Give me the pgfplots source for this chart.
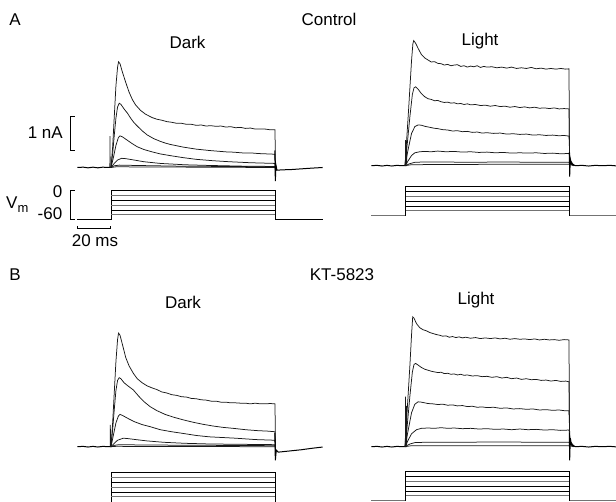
\documentclass[border=0pt]{standalone}
\usepackage{pgfplots}
\pgfplotsset{compat=1.18}
\usepackage{fontspec}
\setmainfont{Liberation Sans}
\begin{document}
\fontsize{17bp}{20bp}\selectfont
\begin{tikzpicture}
\path[use as bounding box] (0,0) rectangle (616bp,502bp);
\clip (0,0) rectangle (616bp,502bp);
\pgfplotsset{
  panel/.style={scale only axis, axis lines=none, clip=false, width=262.4bp, xmin=-25, xmax=135, anchor=south west},
  cur/.style={panel, height=153bp, ymin=-0.6, ymax=3.9},
  volt/.style={panel, height=38.667bp, ymin=-70, ymax=10},
  tr/.style={black!90, line width=0.75bp, mark=none},
  base/.style={black, line width=1bp, mark=none},
  lvA/.style={black, line width=0.7bp, mark=none},
  lvB/.style={black!55, line width=0.7bp, mark=none},
  sb/.style={black, line width=0.9bp, mark=none},
}
% ================= A: Control, Dark (current) =================
\begin{axis}[cur, at={(70bp,314.1bp)}]
\addplot[base] coordinates {(-20.5,0)(-17,0.01)(-14,-0.01)(-11,0.01)(-8,-0.01)(-5,0.01)(-2,0)(0,0)};
\addplot[tr] coordinates {(-0.7,0)(-0.6,0.92)(-0.5,0)(0,0)};
\addplot[tr] coordinates {(0,0)(1,0.6)(2,1.5)(3,2.4)(4,2.95)(4.6,3.11)(5.5,3.05)(7,2.8)(9,2.5)(11,2.22)(13,2.0)(15,1.84)(18,1.68)(21,1.57)(25,1.47)(28,1.42)(31,1.39)(34,1.35)(37,1.33)(40,1.30)(43,1.30)(46,1.27)(49,1.27)(52,1.24)(55,1.25)(58,1.22)(61,1.23)(64,1.21)(67,1.22)(70,1.19)(73,1.20)(76,1.17)(79,1.18)(82,1.15)(85,1.16)(88,1.13)(91,1.13)(94,1.13)(97,1.11)(100,1.11)(100.3,-0.1)};
\addplot[tr] coordinates {(0,0)(1,0.4)(2,0.95)(3,1.45)(4,1.78)(5,1.89)(6,1.86)(8,1.72)(10,1.6)(12,1.45)(14,1.32)(16,1.22)(19,1.08)(22,0.96)(26,0.85)(30,0.77)(33,0.72)(36,0.68)(40,0.64)(44,0.60)(48,0.57)(52,0.54)(56,0.52)(60,0.50)(65,0.48)(70,0.46)(75,0.45)(80,0.43)(85,0.43)(90,0.41)(95,0.40)(100,0.39)(100.3,-0.1)};
\addplot[tr] coordinates {(0,0)(1.5,0.3)(3,0.65)(4.5,0.88)(5.5,0.93)(7,0.9)(10,0.8)(13,0.7)(16,0.61)(20,0.53)(25,0.46)(30,0.40)(36,0.35)(44,0.29)(52,0.24)(62,0.2)(72,0.17)(85,0.14)(100,0.12)(100.3,-0.1)};
\addplot[tr] coordinates {(0,0)(2,0.12)(4,0.22)(6.5,0.27)(9,0.26)(14,0.22)(20,0.17)(30,0.12)(45,0.08)(60,0.06)(80,0.04)(100,0.03)(100.3,-0.1)};
\addplot[tr] coordinates {(0,0)(2,0.05)(5,0.07)(15,0.06)(40,0.04)(70,0.03)(100,0.02)};
\addplot[tr] coordinates {(0,0)(3,0.02)(50,0.01)(100,0.0)};
\addplot[base] coordinates {(99.9,0.5)(100.2,-0.4)(100.6,0.07)(101.2,-0.08)(104,-0.07)(110,-0.06)(116,-0.04)(122,-0.02)(129,0)};
% 1 nA scale bar
\addplot[sb] coordinates {(-22,1.5)(-25,1.5)(-25,0.5)(-22,0.5)};
\end{axis}
% ================= A: Control, Dark (voltage) =================
\begin{axis}[volt, at={(70bp,277.5bp)}]
\addplot[lvA] coordinates {(-20.5,-60)(0,-60)(0,0)(100,0)(100,-60)(129,-60)};
\addplot[lvB] coordinates {(0,-10)(100,-10)};
\addplot[lvA] coordinates {(0,-20)(100,-20)};
\addplot[lvB] coordinates {(0,-30)(100,-30)};
\addplot[lvA] coordinates {(0,-40)(100,-40)};
\addplot[lvB] coordinates {(0,-50)(100,-50)};
% Vm scale bracket
\addplot[sb] coordinates {(-22,0)(-25,0)(-25,-60)(-22,-60)};
% 20 ms bar
\addplot[sb] coordinates {(-20.5,-73)(-20.5,-78.5)(-0.5,-78.5)(-0.5,-73)};
\end{axis}
% ================= A: Control, Light (current) =================
\begin{axis}[cur, at={(364bp,315.9bp)}]
\addplot[base] coordinates {(-20.5,0)(-17,0.01)(-14,-0.01)(-11,0.01)(-8,-0.01)(-5,0.01)(-2,0)(0,0)};
\addplot[tr] coordinates {(0.2,0)(0.35,0.75)(0.5,0)(0.8,0)(0.95,0.6)(1.1,0.05)};
\addplot[tr] coordinates {(0,0)(1,0.75)(2,1.5)(3,2.3)(4,3.1)(4.8,3.58)(5.3,3.68)(6.5,3.6)(8,3.45)(10,3.27)(12,3.17)(14,3.11)(16,3.05)(18,3.06)(20,3.01)(22,3.0)(24,2.96)(26,2.98)(28,2.94)(30,2.96)(32,2.97)(34,2.92)(36,2.94)(38,2.9)(40,2.93)(42,2.91)(44,2.94)(46,2.89)(48,2.92)(50,2.9)(53,2.91)(56,2.88)(59,2.9)(62,2.87)(65,2.9)(68,2.86)(71,2.88)(74,2.86)(77,2.89)(80,2.85)(83,2.87)(86,2.84)(89,2.86)(92,2.84)(95,2.86)(98,2.84)(100,2.85)(100.3,0.2)(103,0)};
\addplot[tr] coordinates {(0,0)(1.5,0.7)(3,1.45)(4.5,2.1)(5.5,2.29)(6.5,2.32)(8,2.25)(10,2.12)(12,2.03)(14,1.97)(16,1.95)(18,1.91)(20,1.92)(22,1.88)(24,1.86)(26,1.87)(28,1.84)(30,1.85)(32,1.82)(34,1.83)(36,1.80)(38,1.82)(40,1.79)(43,1.80)(46,1.77)(49,1.78)(52,1.75)(55,1.77)(58,1.74)(61,1.75)(64,1.72)(67,1.74)(70,1.71)(73,1.73)(76,1.7)(79,1.72)(82,1.69)(85,1.7)(88,1.68)(91,1.7)(94,1.67)(97,1.68)(100,1.67)(100.4,0.15)(103,0)};
\addplot[tr] coordinates {(0,0)(2,0.5)(4,0.95)(6,1.15)(8,1.2)(10,1.19)(12,1.16)(14,1.14)(16,1.12)(18,1.1)(20,1.09)(23,1.06)(26,1.05)(29,1.02)(32,1.03)(35,1.0)(38,1.01)(41,0.98)(44,0.99)(47,0.96)(50,0.97)(54,0.95)(58,0.96)(62,0.93)(66,0.94)(70,0.92)(74,0.93)(78,0.9)(82,0.91)(86,0.89)(90,0.9)(94,0.88)(97,0.89)(100,0.87)(100.6,0.1)(103,0)};
\addplot[tr] coordinates {(0,0)(2,0.15)(4,0.3)(6,0.38)(9,0.41)(12,0.42)(16,0.41)(20,0.43)(25,0.41)(30,0.42)(35,0.4)(40,0.41)(45,0.39)(50,0.4)(55,0.38)(60,0.39)(65,0.37)(70,0.38)(75,0.37)(80,0.38)(85,0.36)(90,0.37)(95,0.35)(100,0.36)(101,0.1)(103.5,0)};
\addplot[tr] coordinates {(0,0)(3,0.06)(6,0.1)(12,0.11)(20,0.11)(40,0.1)(60,0.11)(80,0.1)(100,0.1)(102,0.03)(104,0)};
\addplot[tr] coordinates {(0,0)(4,0.03)(50,0.04)(100,0.04)(103,0)};
\addplot[base] coordinates {(100.2,0.4)(100.4,-0.32)(100.8,0.2)(101.5,0.05)(104,0)(108,0.01)(112,-0.01)(116,0.01)(120,0)(125,0.01)(130,-0.01)(135,0)};
\end{axis}
% ================= A: Control, Light (voltage) =================
\begin{axis}[volt, at={(364bp,281.5bp)}]
\addplot[lvB] coordinates {(-20.5,-60)(0,-60)(0,0)(100,0)(100,-60)(135,-60)};
\addplot[lvA] coordinates {(0,-10)(100,-10)};
\addplot[lvB] coordinates {(0,-20)(100,-20)};
\addplot[lvA] coordinates {(0,-30)(100,-30)};
\addplot[lvA] coordinates {(0,-40)(100,-40)};
\addplot[lvB] coordinates {(0,-50)(100,-50)};
\addplot[lvA] coordinates {(0,-60)(0,0)(100,0)(100,-60)};
\end{axis}
% ================= B: KT-5823, Dark (current) =================
\begin{axis}[cur, at={(70bp,34.9bp)}]
\addplot[base] coordinates {(-20.5,0)(-17,0.01)(-14,-0.01)(-11,0.01)(-8,-0.01)(-5,0.01)(-2,0)(0,0)};
\addplot[tr] coordinates {(-0.5,0)(-0.4,0.64)(-0.3,0)(0,0)};
\addplot[tr] coordinates {(0,0)(1,0.7)(2,1.6)(3,2.5)(4,3.15)(4.6,3.34)(5.5,3.28)(7,3.0)(9,2.62)(11,2.38)(13.6,2.16)(16,2.0)(19,1.88)(22,1.79)(25,1.73)(28,1.68)(31,1.61)(34,1.58)(37,1.53)(40,1.51)(43,1.47)(46,1.46)(49,1.42)(52,1.41)(55,1.38)(58,1.37)(61,1.34)(64,1.34)(67,1.31)(70,1.31)(73,1.29)(76,1.29)(79,1.28)(82,1.28)(85,1.26)(88,1.28)(91,1.26)(94,1.26)(97,1.27)(100,1.26)(100.3,-0.1)};
\addplot[tr] coordinates {(0,0)(1,0.5)(2,1.1)(3,1.65)(4,1.95)(5,2.03)(6,2.0)(8,1.88)(10,1.8)(13.6,1.67)(17,1.48)(20,1.33)(23.8,1.18)(28,1.06)(33,0.95)(38,0.87)(44,0.79)(50,0.72)(56,0.66)(62,0.61)(68,0.57)(74.5,0.54)(82,0.5)(90,0.47)(95,0.46)(100,0.44)(100.3,-0.1)};
\addplot[tr] coordinates {(0,0)(1.5,0.35)(3,0.7)(4.5,0.9)(5.5,0.95)(7,0.92)(10,0.84)(14,0.74)(19,0.65)(23.8,0.59)(30,0.5)(37,0.44)(44,0.39)(52,0.33)(60,0.29)(68,0.27)(76,0.25)(88,0.21)(100,0.19)(100.3,-0.1)};
\addplot[tr] coordinates {(0,0)(2,0.1)(4,0.19)(7.5,0.25)(10,0.24)(15,0.21)(22,0.17)(32,0.13)(45,0.1)(60,0.08)(80,0.07)(100,0.06)(100.3,-0.1)};
\addplot[tr] coordinates {(0,0)(2,0.04)(5,0.06)(20,0.05)(60,0.04)(100,0.03)};
\addplot[tr] coordinates {(0,0)(3,0.01)(100,0)};
\addplot[base] coordinates {(99.9,0.4)(100.2,-0.4)(100.8,-0.1)(102,-0.16)(104,-0.15)(110,-0.12)(116,-0.09)(122,-0.05)(129,-0.01)};
\end{axis}
% ================= B: KT-5823, Dark (voltage) =================
\begin{axis}[volt, at={(70bp,-4.5bp)}]
\addplot[lvA] coordinates {(0,-62)(0,0)(100,0)(100,-62)};
\addplot[lvB] coordinates {(0,-10)(100,-10)};
\addplot[lvA] coordinates {(0,-20)(100,-20)};
\addplot[lvB] coordinates {(0,-30)(100,-30)};
\addplot[lvA] coordinates {(0,-40)(100,-40)};
\addplot[lvB] coordinates {(0,-50)(100,-50)};
\end{axis}
% ================= B: KT-5823, Light (current) =================
\begin{axis}[cur, at={(364bp,34.9bp)}]
\addplot[base] coordinates {(-20.5,0)(-17,0.01)(-14,-0.01)(-11,0.01)(-8,-0.01)(-5,0.01)(-2,0)(0,0)};
\addplot[tr] coordinates {(0.2,0)(0.35,1.47)(0.5,0)(0.8,0)(0.95,1.2)(1.1,0.05)};
\addplot[tr] coordinates {(0,0)(1,0.8)(2,1.6)(3,2.4)(4,3.3)(4.7,3.82)(5.5,3.78)(7,3.62)(9,3.5)(11,3.44)(13,3.41)(15,3.36)(17,3.33)(19,3.3)(21,3.28)(23,3.25)(25,3.26)(27,3.22)(29,3.24)(31,3.21)(33,3.23)(35,3.2)(37,3.22)(40,3.19)(43,3.21)(46,3.18)(49,3.2)(52,3.18)(55,3.2)(58,3.17)(61,3.19)(64,3.16)(67,3.18)(70,3.16)(73,3.17)(76,3.15)(79,3.17)(82,3.14)(85,3.16)(88,3.14)(91,3.15)(94,3.13)(97,3.15)(100,3.14)(100.3,0.2)(103,0)};
\addplot[tr] coordinates {(0,0)(1.5,0.7)(3,1.5)(4.5,2.2)(5.5,2.42)(6.5,2.45)(8,2.4)(10,2.33)(12,2.28)(14,2.25)(16,2.22)(18,2.2)(20,2.18)(22,2.19)(24,2.15)(26,2.16)(28,2.13)(30,2.14)(32,2.11)(34,2.13)(36,2.1)(38,2.11)(41,2.08)(44,2.09)(47,2.06)(50,2.07)(53,2.04)(56,2.06)(59,2.02)(62,2.04)(65,2.0)(68,2.02)(71,1.98)(74,2.0)(77,1.97)(80,1.98)(83,1.95)(86,1.96)(89,1.93)(92,1.95)(95,1.92)(98,1.93)(100,1.91)(100.4,0.15)(103,0)};
\addplot[tr] coordinates {(0,0)(2,0.5)(4,1.0)(6,1.25)(8,1.32)(10,1.31)(12,1.29)(14,1.27)(17,1.26)(20,1.24)(23,1.25)(26,1.22)(29,1.23)(32,1.2)(35,1.21)(38,1.18)(41,1.19)(44,1.16)(47,1.17)(50,1.15)(54,1.16)(58,1.13)(62,1.14)(66,1.11)(70,1.12)(74,1.1)(78,1.11)(82,1.08)(86,1.09)(90,1.07)(94,1.08)(97,1.06)(100,1.06)(100.6,0.1)(103,0)};
\addplot[tr] coordinates {(0,0)(2,0.2)(4,0.38)(7,0.5)(10,0.54)(14,0.55)(18,0.54)(22,0.56)(26,0.54)(30,0.55)(35,0.53)(40,0.54)(45,0.52)(50,0.53)(55,0.51)(60,0.52)(65,0.5)(70,0.52)(75,0.5)(80,0.51)(85,0.49)(90,0.5)(95,0.48)(100,0.49)(101,0.12)(103.5,0)};
\addplot[tr] coordinates {(0,0)(3,0.08)(6,0.12)(12,0.13)(30,0.13)(60,0.14)(80,0.13)(100,0.13)(102,0.03)(104,0)};
\addplot[tr] coordinates {(0,0)(4,0.03)(100,0.03)(103,0)};
\addplot[base] coordinates {(100.2,0.4)(100.4,-0.4)(100.8,0.25)(101.5,0.05)(104,0)(108,0.01)(112,-0.01)(116,0.01)(120,0)(125,0.01)(130,-0.01)(135,0)};
\end{axis}
% ================= B: KT-5823, Light (voltage) =================
\begin{axis}[volt, at={(364bp,-3.5bp)}]
\addplot[lvB] coordinates {(-20.5,-60)(0,-60)(0,0)(100,0)(100,-60)(135,-60)};
\addplot[lvA] coordinates {(0,-10)(100,-10)};
\addplot[lvB] coordinates {(0,-20)(100,-20)};
\addplot[lvA] coordinates {(0,-30)(100,-30)};
\addplot[lvA] coordinates {(0,-40)(100,-40)};
\addplot[lvB] coordinates {(0,-50)(100,-50)};
\addplot[lvA] coordinates {(0,-60)(0,0)(100,0)(100,-60)};
\end{axis}
% ================= Text =================
\node at (15bp,482bp) {A};
\node at (329bp,483bp) {Control};
\node at (187.5bp,460bp) {Dark};
\node at (480bp,461bp) {Light};
\node at (15bp,227bp) {B};
\node at (342bp,227bp) {KT-5823};
\node at (183bp,200bp) {Dark};
\node at (476bp,202bp) {Light};
\node[anchor=east, inner sep=0pt] at (63bp,369bp) {1 nA};
\node[anchor=east, inner sep=0pt] at (62.5bp,310bp) {0};
\node[anchor=east, inner sep=0pt] at (62.5bp,288bp) {-60};
\node[anchor=west, inner sep=0pt] at (6bp,297bp) {V\raisebox{-0.45ex}{\fontsize{13bp}{13bp}\selectfont m}};
\node at (95bp,261bp) {20 ms};
\end{tikzpicture}
\end{document}
